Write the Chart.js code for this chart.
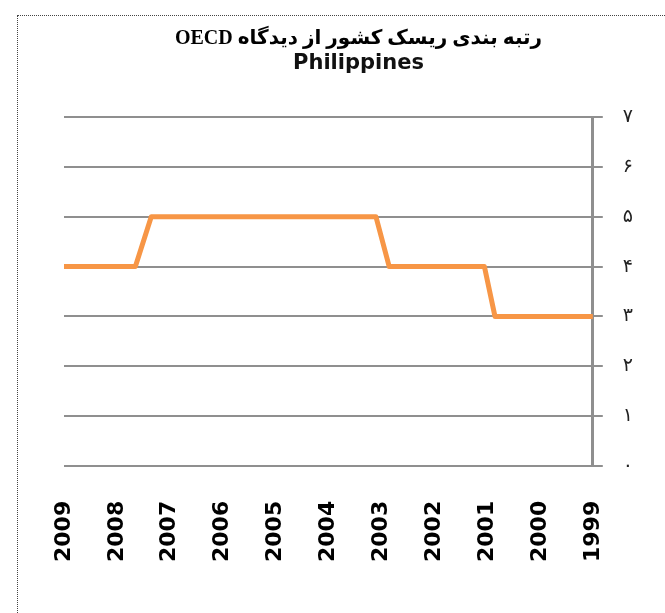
<!DOCTYPE html>
<html lang="fa">
<head>
<meta charset="UTF-8">
<title>OECD Philippines</title>
<script src="https://cdn.jsdelivr.net/npm/chart.js"></script>
<style>
  body { margin: 0; background: #fff; }
  #wrap { position: relative; width: 665px; height: 613px; overflow: hidden; }
  #frame { position: absolute; left: 17px; top: 15px; width: 700px; height: 700px; border: 1px dotted #444; }
  #grafico { position: absolute; left: 0; top: 0; }
</style>
</head>
<body>
<div id="wrap">
  <div id="frame"></div>
  <canvas id="grafico" width="665" height="613" dir="rtl"></canvas>
</div>
<script>
// data (x axis runs from 2009 on the left to 1999 on the right)
var yearTicks = [2009, 2008, 2007, 2006, 2005, 2004, 2003, 2002, 2001, 2000, 1999];
var riskYears = [2009, 2007.65, 2007.35, 2003.1, 2002.85, 2001.05, 2000.85, 1999];
var riskValues = [4, 4, 5, 5, 4, 4, 3, 3];
var persianDigits = ['۰', '۱', '۲', '۳', '۴', '۵', '۶', '۷'];

var titulo = 'رتبه بندی ریسک کشور از دیدگاه OECD';
var pais = 'Philippines';

var pontos = [];
for (var i = 0; i < riskYears.length; i += 1) {
  pontos.push({ x: riskYears[i], y: riskValues[i] });
}

new Chart(document.getElementById('grafico'), {
  type: 'line',
  data: {
    datasets: [{
      data: pontos,
      borderColor: '#F79646',
      borderWidth: 5,
      borderJoinStyle: 'round',
      borderCapStyle: 'round',
      pointRadius: 0,
      tension: 0
    }]
  },
  options: {
    responsive: false,
    animation: false,
    layout: { padding: { left: 64, right: 12, top: 27, bottom: 24 } },
    plugins: {
      legend: { display: false },
      tooltip: { enabled: false },
      title: {
        display: true,
        text: titulo,
        color: '#000',
        font: { family: "'Liberation Serif', 'DejaVu Sans'", size: 20, weight: 'bold' },
        padding: { top: 0, bottom: 0 }
      },
      subtitle: {
        display: true,
        text: pais,
        color: '#111',
        font: { family: "'DejaVu Sans'", size: 21, weight: 'bold' },
        padding: { top: 0, bottom: 41 }
      }
    },
    scales: {
      x: {
        type: 'linear',
        reverse: true,
        min: 1999,
        max: 2009,
        afterBuildTicks: function (axis) {
          axis.ticks = yearTicks.map(function (v) { return { value: v }; });
        },
        ticks: {
          callback: function (v) { return String(v); },
          color: '#000',
          font: { family: "'DejaVu Sans'", size: 22, weight: 'bold' },
          maxRotation: 90,
          minRotation: 90,
          padding: 27
        },
        grid: { display: false },
        border: { display: false }
      },
      y: {
        position: 'right',
        min: 0,
        max: 7,
        ticks: {
          stepSize: 1,
          callback: function (v) { return persianDigits[v]; },
          color: '#222',
          font: { family: "'DejaVu Sans'", size: 19 },
          padding: 20
        },
        grid: { color: '#8f8f8f', lineWidth: 2, tickLength: 10 },
        border: { color: '#8f8f8f', width: 3 }
      }
    }
  }
});
</script>
</body>
</html>
